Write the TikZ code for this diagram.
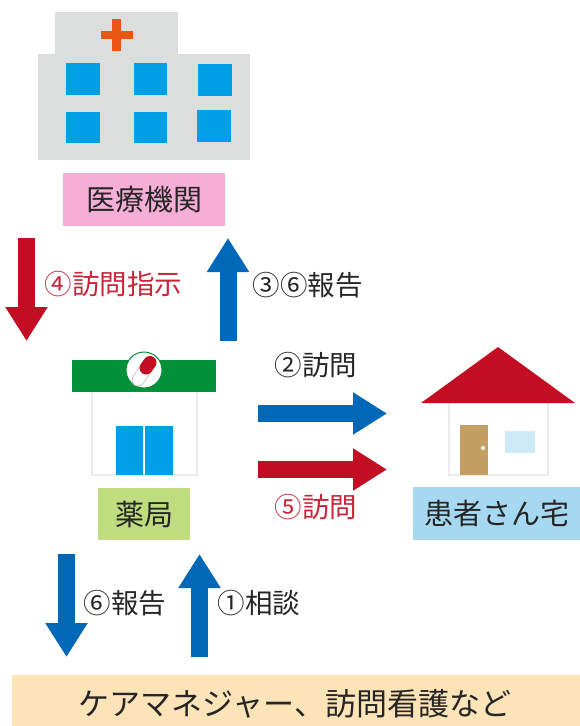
\documentclass[tikz,border=0pt]{standalone}
\usepackage{fontspec}
\setmainfont{Noto Sans CJK JP}
\usetikzlibrary{arrows.meta}
\definecolor{wallgray}{HTML}{DCDDDD}
\definecolor{linegray}{HTML}{EBECEC}
\definecolor{winblue}{HTML}{00A0E9}
\definecolor{crossorange}{HTML}{EA5514}
\definecolor{shopgreen}{HTML}{009139}
\definecolor{roofred}{HTML}{C30D23}
\definecolor{arrowblue}{HTML}{0068B7}
\definecolor{doorbrown}{HTML}{C49F63}
\definecolor{labelpink}{HTML}{F6AED6}
\definecolor{labelgreen}{HTML}{BFDC7F}
\definecolor{labelblue}{HTML}{A6D8F2}
\definecolor{labelcream}{HTML}{FCE4B8}
\tikzset{
  place/.style={inner sep=0pt, font=\fontsize{29}{29}\selectfont, text=black!85},
  caption/.style={inner sep=0pt, font=\fontsize{27.5}{27.5}\selectfont, text=black!85},
  bluearrow/.style={draw=arrowblue, line width=17pt, -{Triangle[length=34pt, width=40pt]}},
  redarrow/.style={draw=roofred, line width=17pt, -{Triangle[length=34pt, width=40pt]}},
  window/.style={fill=winblue}
}
\begin{document}
\begin{tikzpicture}[x=1pt, y=-1pt]
  \useasboundingbox (0,0) rectangle (580,726);

  % hospital
  \fill[wallgray] (55,12) rectangle (178,54);
  \fill[wallgray] (38,54) rectangle (250,160);
  \fill[crossorange] (101,31) rectangle (133,39);
  \fill[crossorange] (112,19) rectangle (121,51);
  \fill[window] (66,63) rectangle (100,95);
  \fill[window] (134,63) rectangle (167,95);
  \fill[window] (198,64) rectangle (232,96);
  \fill[window] (66,112) rectangle (100,143);
  \fill[window] (134,112) rectangle (167,143);
  \fill[window] (197,110) rectangle (231,142);

  % pharmacy
  \draw[linegray, line width=2pt] (92,392) -- (92,475) -- (197,475) -- (197,392);
  \fill[window] (116,426) rectangle (143,475);
  \fill[window] (145,426) rectangle (173,475);
  \fill[shopgreen] (72,360) rectangle (216,392);
  \filldraw[draw=shopgreen, fill=white, line width=1pt] (144,370) circle (18);
  \draw[black!20, line width=13pt, line cap=round] (150,362.5) -- (138,380);
  \draw[white, line width=11pt, line cap=round] (150,362.5) -- (138,380);
  \draw[roofred, line width=13pt, line cap=round] (150,362.5) -- (146,368);

  % home
  \draw[linegray, line width=1.5pt] (449,403) -- (449,475) -- (548,475) -- (548,403);
  \fill[roofred] (498,347) -- (575,403) -- (421,403) -- cycle;
  \fill[doorbrown] (460,425) rectangle (488,475);
  \fill[white] (483,448) circle (2);
  \fill[labelblue!55] (505,431) rectangle (535,453);

  % labels
  \node[place, fill=labelpink, minimum width=162pt, minimum height=53pt] (hospital) at (144,199.5) {医療機関};
  \node[place, fill=labelgreen, minimum width=92pt, minimum height=52pt] (pharmacy) at (144,514) {薬局};
  \node[place, fill=labelblue, minimum width=167pt, minimum height=53pt] (home) at (496.5,513.5) {患者さん宅};
  \fill[labelcream] (12,675) rectangle (580,726);
  \node[place, font=\fontsize{31}{31}\selectfont] (care) at (295,704) {ケアマネジャー、訪問看護など};

  % arrows
  \coordinate (orderA) at (26.5,238);
  \coordinate (orderB) at (26.5,341);
  \coordinate (reportA) at (228,341);
  \coordinate (reportB) at (228,238);
  \coordinate (visitA) at (258,413.5);
  \coordinate (visitB) at (387,413.5);
  \coordinate (revisitA) at (258,469.5);
  \coordinate (revisitB) at (387,469.5);
  \coordinate (backA) at (66.5,554);
  \coordinate (backB) at (66.5,657);
  \coordinate (askA) at (199.5,657);
  \coordinate (askB) at (199.5,554);
  \draw[redarrow] (orderA) -- (orderB);
  \draw[bluearrow] (reportA) -- (reportB);
  \draw[bluearrow] (visitA) -- (visitB);
  \draw[redarrow] (revisitA) -- (revisitB);
  \draw[bluearrow] (backA) -- (backB);
  \draw[bluearrow] (askA) -- (askB);

  % captions
  \node[caption, text=roofred!90] (orderText) at (113.5,284) {④訪問指示};
  \node[caption] (reportText) at (307.5,285) {③⑥報告};
  \node[caption] (visitText) at (316,365) {②訪問};
  \node[caption, text=roofred!90] (revisitText) at (316,507) {⑤訪問};
  \node[caption] (backText) at (125,603) {⑥報告};
  \node[caption] (askText) at (259,603) {①相談};
\end{tikzpicture}
\end{document}
